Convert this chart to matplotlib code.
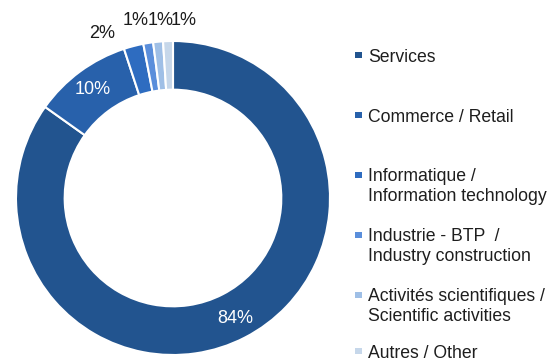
import matplotlib.pyplot as plt
from matplotlib.patches import Rectangle

plt.rcParams['font.family'] = ['Liberation Sans', 'DejaVu Sans']

sectors = ['Services', 'Commerce / Retail', 'Informatique /\nInformation technology',
           'Industrie - BTP  /\nIndustry construction',
           'Activités scientifiques /\nScientific activities', 'Autres / Other']
shares = [84, 10, 2, 1, 1, 1]
colors = ['#22548f', '#2861ab', '#2e6cc0', '#5a8edb', '#9fbfe6', '#c6d7ea']

W, H = 559, 362
fig = plt.figure(figsize=(W / 100, H / 100), dpi=100)

# donut centre (173, 198) px from top-left, outer radius 157 px
cx, cy, R = 173, 198, 157
ax = fig.add_axes([(cx - R) / W, (H - cy - R) / H, 2 * R / W, 2 * R / H])

wedges, texts, autotexts = ax.pie(
    shares, colors=colors, startangle=90, counterclock=False,
    autopct='%d%%', pctdistance=0.86, radius=1.0,
    wedgeprops=dict(width=0.31, edgecolor='white', linewidth=1.5),
    textprops=dict(fontsize=13))
ax.set_xlim(-1, 1)
ax.set_ylim(-1, 1)
ax.set_aspect('equal')
ax.axis('off')

for t in autotexts[:2]:
    t.set_color('white')

# small shares sit above the ring, spread out sideways
outside = [(-0.45, 1.045), (-0.235, 1.13), (-0.08, 1.13), (0.07, 1.13)]
for t, pos in zip(autotexts[2:], outside):
    t.set_position(pos)
    t.set_color('#1a1a1a')
    t.set_fontsize(13)

# legend entries: first-line centre y (px from top)
legend_y = [57, 117, 177, 237, 297, 353]
line_gap = 19
for lab, col, y in zip(sectors, colors, legend_y):
    n = lab.count('\n')
    ymid = y + n * line_gap / 2
    fig.text(368 / W, 1 - ymid / H, lab, fontsize=12.7, color='#1e1e1e',
             va='center', ha='left', linespacing=1.2)
    fig.add_artist(Rectangle((355 / W, 1 - (y + 1) / H), 7 / W, 6 / H,
                             transform=fig.transFigure, color=col, lw=0))

fig.savefig('out.png', dpi=100)
